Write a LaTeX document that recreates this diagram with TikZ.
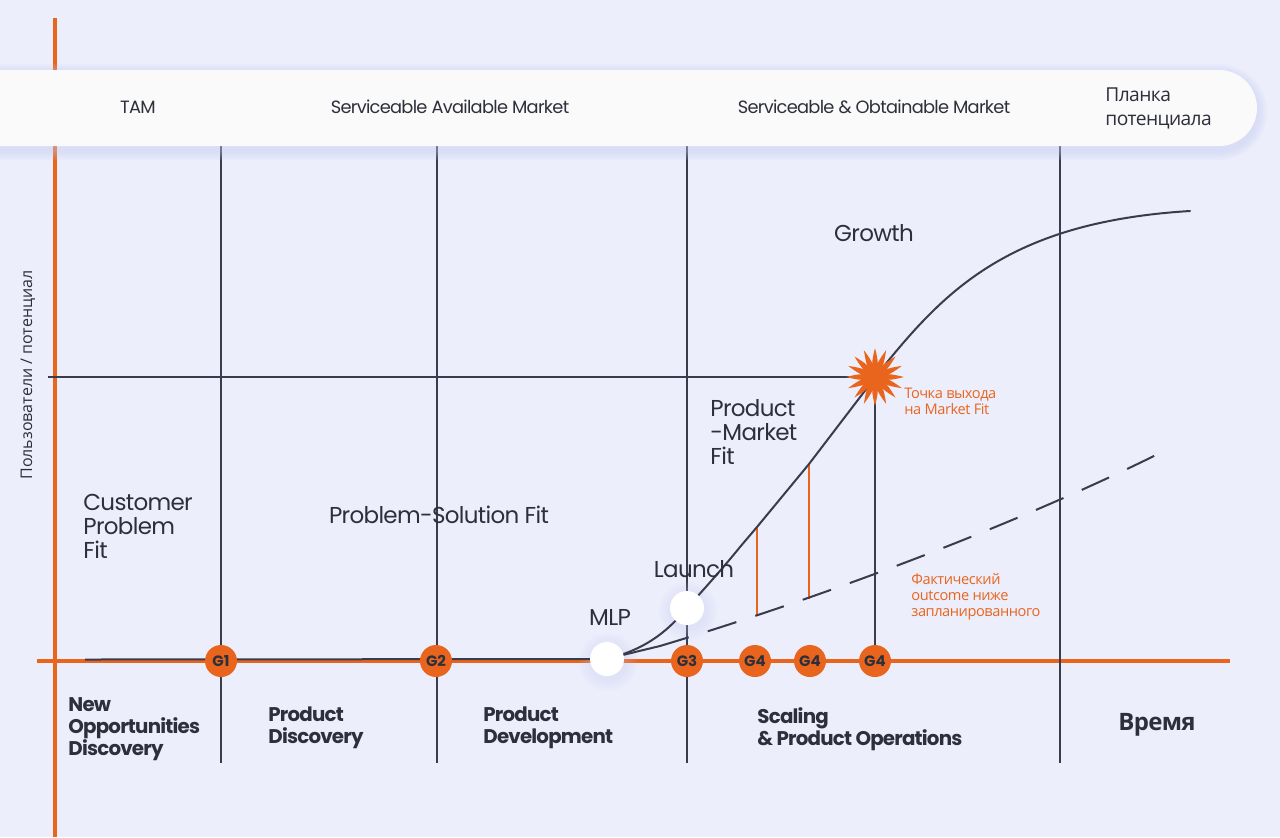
\documentclass[tikz,border=0pt]{standalone}
\usepackage{fontspec}
\setmainfont{Poppins}
\newfontfamily\ru{Open Sans}
\usetikzlibrary{calc}
\pgfdeclarelayer{back}
\pgfdeclarelayer{lines}
\pgfsetlayers{back,lines,main}
\definecolor{bg}{HTML}{ECEEFC}
\definecolor{band}{HTML}{FAFAFA}
\definecolor{org}{HTML}{E9651E}
\definecolor{ink}{HTML}{3A3C4E}
\definecolor{txt}{HTML}{2D2F3B}
\definecolor{glow}{HTML}{C4CAF2}
\tikzset{
  gridline/.style={draw=ink, line width=1pt},
  axisline/.style={draw=org, line width=1.6pt},
  curveline/.style={draw=ink, line width=1pt, line cap=round},
  dashline/.style={draw=ink, line width=1pt, dash pattern=on 15pt off 10pt},
  orgline/.style={draw=org, line width=1pt},
  gnode/.style={circle, fill=org, minimum size=16pt, inner sep=0pt, text=txt,
    font=\bfseries\fontsize{7.5}{8}\selectfont},
  dotnode/.style={circle, fill=white, minimum size=17pt, inner sep=0pt},
  bandnode/.style={rectangle, rounded corners=19pt, minimum width=648.5pt, minimum height=38pt, fill=band, inner sep=0pt},
  toplbl/.style={text=txt, inner sep=0pt, font=\fontsize{8.9}{10}\selectfont\addfontfeatures{LetterSpace=-4}},
  midlbl/.style={text=txt, inner sep=0pt, align=left, font=\fontsize{11.5}{12}\selectfont\addfontfeatures{LetterSpace=-3}},
  boldlbl/.style={text=txt, inner sep=0pt, align=left, font=\bfseries\fontsize{9.9}{11}\selectfont\addfontfeatures{LetterSpace=-4}},
  rulbl/.style={text=txt, inner sep=0pt, align=left, font=\ru\fontsize{9.6}{12}\selectfont\addfontfeatures{LetterSpace=-3}},
  notelbl/.style={text=org, inner sep=0pt, align=left, font=\ru\fontsize{7.3}{8}\selectfont\addfontfeatures{LetterSpace=-3}},
}
\begin{document}
\begin{tikzpicture}[x=0.5pt,y=-0.5pt]
\useasboundingbox (0,0) rectangle (1280,837);

% coordinates
\coordinate (yTop) at (55,18);
\coordinate (yBot) at (55,837);
\coordinate (xL) at (37,661);
\coordinate (xR) at (1230,661);
\coordinate (v1t) at (221,146); \coordinate (v1b) at (221,763);
\coordinate (v2t) at (437,146); \coordinate (v2b) at (437,763);
\coordinate (v3t) at (687,146); \coordinate (v3b) at (687,763);
\coordinate (v4t) at (1060,146); \coordinate (v4b) at (1060,763);
\coordinate (hL) at (48,377);
\coordinate (star) at (875,377);
\coordinate (darkL) at (85,659.5);
\coordinate (pA) at (740,547);
\coordinate (pB) at (757,527);
\coordinate (pC) at (809,464);
\coordinate (pD) at (880,371);
\coordinate (pF) at (1190,211);
\coordinate (qA) at (660,646);
\coordinate (qB) at (757,616);
\coordinate (qC) at (809,599);
\coordinate (qE) at (1164,451);

\begin{pgfonlayer}{back}
  \fill[bg] (0,0) rectangle (1280,837);
  % axes and grid
  \draw[axisline] (yTop) -- (yBot);
  \draw[axisline] (xL) -- (xR);
  \draw[gridline] (v1t) -- (v1b);
  \draw[gridline] (v2t) -- (v2b);
  \draw[gridline] (v3t) -- (v3b);
  \draw[gridline] (v4t) -- (v4b);
  \draw[gridline] (hL) -- (star);
  % band soft shadow
  \foreach \s in {10,8,6,4,2}{
    \fill[glow, opacity=0.10] [rounded corners=19pt+\s*0.5pt] (-40-\s,70-\s+4) rectangle (1257+\s,146+\s+4);
  }
  % glows for the white dots
  \foreach \p in {(607,659),(687,608)}{
    \foreach \r in {3,6,...,12}{
      \fill[glow, opacity=0.07] \p ++(1,3) circle (17+\r);
    }
  }
\end{pgfonlayer}

% band
\node[bandnode] (bandbox) at (608.5,108) {};

% nodes
\node[dotnode] (mlp) at (607,659) {};
\node[dotnode] (launch) at (687,608) {};
\node[gnode] (g1) at (221,661) {G1};
\node[gnode] (g2) at (436,661) {G2};
\node[gnode] (g3) at (687,661) {G3};
\node[gnode] (g4a) at (755,661) {G4};
\node[gnode] (g4b) at (810,661) {G4};
\node[gnode] (g4c) at (875,661) {G4};

\begin{pgfonlayer}{lines}
  \draw[gridline] (darkL) -- (mlp.center);
  \draw[gridline] (star) -- (g4c.center);
  \draw[orgline] (pB) -- (qB);
  \draw[orgline] (pC) -- (qC);
  % growth curve
  \draw[curveline] (mlp.center) .. controls (650,648) and (670,628) .. (launch.center)
     .. controls (705,588) and (723,568) .. (pA) -- (pB) -- (pC) -- (pD)
     .. controls (945,290) and (1010,222) .. (pF);
  % actual outcome
  \draw[curveline] (mlp.center) .. controls (635,652) .. (qA);
  \draw[dashline] (qA) .. controls (830,595) and (1024,521) .. (qE);
\end{pgfonlayer}

% starburst
\foreach \a in {0,22.5,...,337.5}{
  \fill[org, shift={(star)}, rotate=\a]
    (0,0) .. controls (9,4.5) and (17,3) .. (29,0) .. controls (17,-3) and (9,-4.5) .. (0,0) -- cycle;
}
\fill[org] (star) circle (5);

% top labels
\node[toplbl] (tam) at (138,107) {TAM};
\node[toplbl] (sam) at (450,107) {Serviceable Available Market};
\node[toplbl] (som) at (874,107) {Serviceable \& Obtainable Market};
\node[rulbl, anchor=west] (plank) at (1105,108) {Планка\\потенциала};

% axis label
\node[rulbl, rotate=90, font=\ru\fontsize{8}{9}\selectfont] (ylab) at (28,375) {Пользователи / потенциал};

% area labels
\node[midlbl, anchor=west] (cpf) at (83,526) {Customer\\Problem\\Fit};
\node[midlbl] (psf) at (439,515) {Problem-Solution Fit};
\node[midlbl, anchor=west] (pmf) at (710,432) {Product\\-Market\\Fit};
\node[midlbl] (grow) at (874,233) {Growth};
\node[midlbl] (launchlbl) at (694,569) {Launch};
\node[midlbl] (mlplbl) at (610,617) {MLP};

% notes
\node[notelbl, anchor=west] (exitlbl) at (904,401) {Точка выхода\\на Market Fit};
\node[notelbl, anchor=west] (factlbl) at (911,597) {Фактический\\outcome ниже\\запланированного};

% bottom labels
\node[boldlbl, anchor=west] (nod) at (68,729) {New\\Opportunities\\Discovery};
\node[boldlbl, anchor=west] (pd) at (268,728) {Product\\Discovery};
\node[boldlbl, anchor=west] (pdev) at (483,728) {Product\\Development};
\node[boldlbl, anchor=west] (scal) at (757,729) {Scaling\\\& Product Operations};
\node[text=txt, font=\ru\bfseries\fontsize{12}{13}\selectfont\addfontfeatures{LetterSpace=-3}] (time) at (1157,725) {Время};
\end{tikzpicture}
\end{document}
